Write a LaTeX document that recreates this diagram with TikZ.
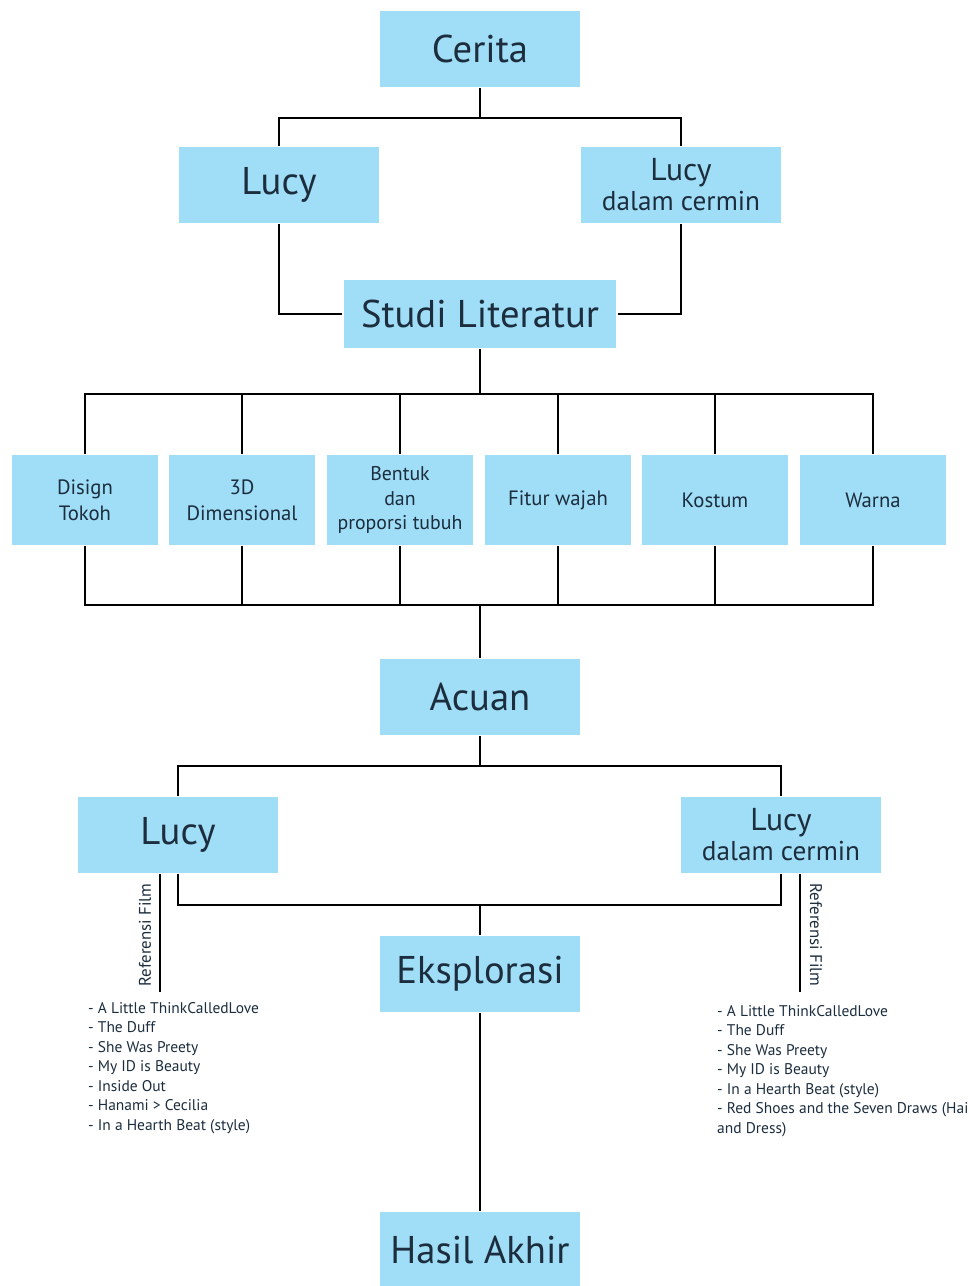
\documentclass[tikz,border=0pt]{standalone}
\usepackage{fontspec}
\setmainfont{PT Sans}
\usepackage{tikz}
\usetikzlibrary{positioning, calc}
\definecolor{birumuda}{RGB}{160,221,246}
\definecolor{tinta}{RGB}{28,45,62}

\begin{document}
\begin{tikzpicture}[x=0.02cm, y=-0.02cm, line width=1.4pt,
    besar/.style={fill=birumuda, text=tinta, inner sep=0pt, align=center,
      minimum width=4cm, minimum height=1.52cm, font=\fontsize{22}{24}\selectfont},
    sedang/.style={besar, font=\fontsize{18}{17}\selectfont},
    aspek/.style={fill=birumuda, text=tinta, inner sep=0pt, align=center,
      minimum width=2.94cm, minimum height=1.8cm, font=\fontsize{11.8}{14}\selectfont},
    daftar/.style={anchor=north west, align=left, inner sep=0pt, text=tinta,
      font=\fontsize{8.8}{11.1}\selectfont},
    judulref/.style={inner sep=0pt, text=tinta, font=\fontsize{9.6}{10}\selectfont}]
                  \useasboundingbox (0,0) rectangle (969,1286);

                  % bagian atas
                  \node[besar] (cerita) at (480,49) {Cerita};
                  \node[besar] (lucyA) at (279,185) {Lucy};
                  \node[sedang] (lucyB) at (681,185) {Lucy\\{\fontsize{15.5}{17}\selectfont dalam cermin}};
                  \node[besar, minimum width=5.46cm, minimum height=1.36cm] (studi) at (480,314) {Studi Literatur};

                  \coordinate (j1) at (480,118);
                  \draw (cerita.south) -- (j1);
                  \draw (lucyA.north) |- (j1) -| (lucyB.north);
                  \draw (lucyA.south) |- (studi.west);
                  \draw (lucyB.south) |- (studi.east);

                  % aspek studi
                  \node[aspek] (a1) at (85,500) {Disign\\[1pt]Tokoh};
                  \node[aspek] (a2) at (242,500) {3D\\[1pt]Dimensional};
                  \node[aspek, font=\fontsize{11.3}{13.9}\selectfont] (a3) at (400,500) {Bentuk\\dan\\proporsi tubuh};
                  \node[aspek] (a4) at (558,500) {Fitur wajah};
                  \node[aspek] (a5) at (715,500) {Kostum};
                  \node[aspek] (a6) at (873,500) {Warna};

                  \coordinate (j2) at (480,394);
                  \coordinate (j3) at (480,605);
                  \draw (studi.south) -- (j2);
                  \draw (a1.north) |- (j2) -| (a6.north);
                  \draw (a1.south) |- (j3) -| (a6.south);
                  \foreach \i in {2,...,5}{
                    \draw (a\i.north) -- (a\i.north |- j2);
                    \draw (a\i.south) -- (a\i.south |- j3);
                  }

                  % acuan
                  \node[besar] (acuan) at (480,697) {Acuan};
                  \node[besar] (lucyC) at (178,835) {Lucy};
                  \node[sedang] (lucyD) at (781,835) {Lucy\\{\fontsize{15.5}{17}\selectfont dalam cermin}};
                  \node[besar] (eksplorasi) at (480,974) {Eksplorasi};
                  \node[besar] (hasil) at (480,1250) {Hasil Akhir};

                  \draw (j3) -- (acuan.north);
                  \coordinate (j4) at (480,766);
                  \draw (acuan.south) -- (j4);
                  \draw (lucyC.north) |- (j4) -| (lucyD.north);
                  \coordinate (j5) at (480,905);
                  \draw (lucyC.south) |- (j5) -| (lucyD.south);
                  \draw (j5) -- (eksplorasi.north);
                  \draw (eksplorasi.south) -- (hasil.north);

                  % referensi film
                  \coordinate (refA) at (160,992);
                  \coordinate (refB) at (800,992);
                  \draw (lucyC.south -| refA) -- (refA);
                  \draw (lucyD.south -| refB) -- (refB);
                  \node[judulref, rotate=90] (judulA) at (145,935) {Referensi Film};
                  \node[judulref, rotate=-90] (judulB) at (816,935) {Referensi Film};

                  \node[daftar] (listA) at (87,1001) {- A Little ThinkCalledLove\\- The Duff\\- She Was Preety\\- My ID is Beauty\\- Inside Out\\- Hanami > Cecilia\\- In a Hearth Beat (style)};
                  \node[daftar] (listB) at (716,1004) {- A Little ThinkCalledLove\\- The Duff\\- She Was Preety\\- My ID is Beauty\\- In a Hearth Beat (style)\\- Red Shoes and the Seven Draws (Hair\\and Dress)};
                \end{tikzpicture}
\end{document}
